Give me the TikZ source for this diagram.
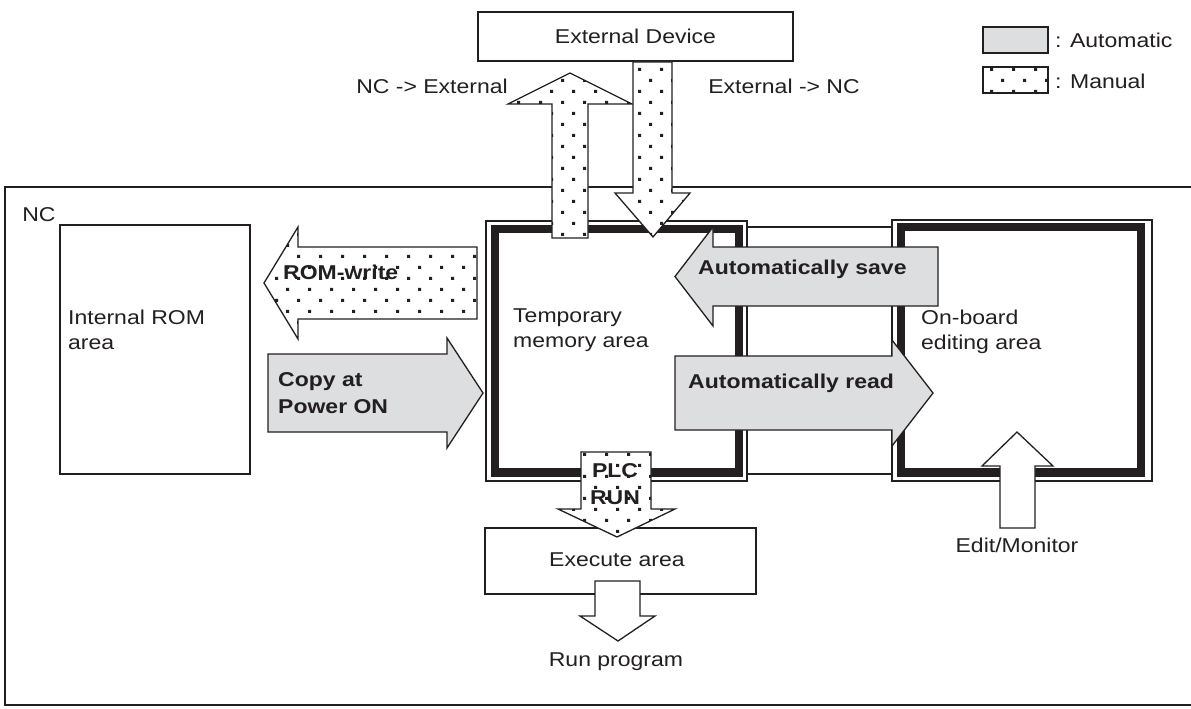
\documentclass[tikz,border=0pt]{standalone}
\usepackage{fontspec}
\setmainfont{Liberation Sans}[FakeStretch=1.15]
\usetikzlibrary{patterns}
\definecolor{autogray}{RGB}{221,222,224}
\definecolor{ink}{RGB}{35,31,32}
\pgfdeclarepatternformonly{mydots}{\pgfpoint{-1pt}{-1pt}}{\pgfpoint{23pt}{23pt}}{\pgfpoint{22pt}{22pt}}{%
  \pgfpathrectangle{\pgfpoint{0pt}{0pt}}{\pgfpoint{3pt}{3pt}}%
  \pgfpathrectangle{\pgfpoint{11pt}{11pt}}{\pgfpoint{3pt}{3pt}}%
  \pgfusepath{fill}}
\begin{document}
\begin{tikzpicture}[x=1pt,y=-1pt,
  font=\fontsize{20}{25}\selectfont,
  thinline/.style={draw=ink,line width=1.3pt},
  bandline/.style={draw=ink,line width=8.5pt,line join=miter},
  autoarrow/.style={draw=ink,line width=1.3pt,fill=autogray,line join=miter},
  manarrow/.style={draw=ink,line width=1.3pt,preaction={fill=white},pattern=mydots,pattern color=ink,line join=miter},
  whitearrow/.style={draw=ink,line width=1.3pt,fill=white,line join=miter},
  txt/.style={inner sep=0pt,text=ink},
  btxt/.style={inner sep=0pt,text=ink,font=\fontsize{20}{27}\selectfont\bfseries}]
\useasboundingbox (0,0) rectangle (1191,709);
\clip (0,0) rectangle (1191,709);
\fill[white] (0,0) rectangle (1191,709);

% external device
\draw[thinline] (478,12) rectangle (793,61);
\node[txt] (ext) at (635.5,36.5) {External Device};
\node[txt] (ncext) at (432,86) {NC -> External};
\node[txt] (extnc) at (784,86) {External -> NC};

% legend
\draw[thinline,fill=autogray] (983,27) rectangle (1048,53);
\draw[manarrow] (983,67) rectangle (1048,93);
\node[txt,anchor=west] (lauto) at (1055,40) {: Automatic};
\node[txt,anchor=west] (lman) at (1055,81) {: Manual};

% NC frame
\draw[thinline] (1200,187) -- (5,187) -- (5,705) -- (1200,705);
\node[txt] (nc) at (39,215) {NC};

% internal ROM
\draw[thinline] (60,225) rectangle (250,474);
\node[txt,anchor=west,align=left] (rom) at (68,330) {Internal ROM\\area};

% connecting band
\draw[thinline] (747,227) rectangle (892,474);

% temporary memory
\draw[thinline,fill=white] (486,221) rectangle (747,481);
\draw[bandline] (495,229) rectangle (739,472.5);
\node[txt,anchor=west,align=left] (tmp) at (513,330) {Temporary\\memory area};

% on-board editing
\draw[thinline,fill=white] (892,220) rectangle (1152,481);
\draw[bandline] (901,227) rectangle (1141,472.5);
\node[txt,anchor=west,align=left] (onb) at (921,332) {On-board\\editing area};

% execute area
\draw[thinline] (485,528) rectangle (756,594);
\node[txt] (exe) at (617,560) {Execute area};

% arrows
\draw[manarrow] (477,247) -- (298,247) -- (298,227) -- (264,283) -- (298,339) -- (298,319) -- (477,319) -- cycle;
\node[btxt,anchor=west] (romw) at (283,272) {ROM-write};

\draw[autoarrow] (268,354) -- (447,354) -- (447,338) -- (483,393) -- (447,448) -- (447,432) -- (268,432) -- cycle;
\node[btxt,anchor=west,align=left] (copy) at (278,393) {Copy at\\Power ON};

\draw[autoarrow] (938,247) -- (713,247) -- (713,227) -- (675,276.5) -- (713,326) -- (713,306) -- (938,306) -- cycle;
\node[btxt,anchor=west] (save) at (698,269) {Automatically save};

\draw[autoarrow] (675,356) -- (892,356) -- (892,340) -- (933,393) -- (892,446) -- (892,430) -- (675,430) -- cycle;
\node[btxt,anchor=west] (read) at (688,383) {Automatically read};

\draw[manarrow] (552,238) -- (552,104) -- (508,104) -- (570,73) -- (632,104) -- (588,104) -- (588,238) -- cycle;
\draw[manarrow] (633,62) -- (633,193) -- (615,193) -- (653,237) -- (690,193) -- (672,193) -- (672,62) -- cycle;

\draw[manarrow] (581,452) -- (581,509) -- (558,509) -- (617,537) -- (675,509) -- (651,509) -- (651,452) -- cycle;
\node[btxt,align=center] (plc) at (615,484) {PLC\\RUN};

\draw[whitearrow] (595,581) -- (595,616) -- (580,616) -- (618,641) -- (655,616) -- (640,616) -- (640,581) -- cycle;
\node[txt] (run) at (616,662) {Run program};

\draw[whitearrow] (1000,528) -- (1000,466) -- (982,466) -- (1017,432) -- (1053,466) -- (1035,466) -- (1035,528) -- cycle;
\node[txt] (edit) at (1017,545) {Edit/Monitor};
\end{tikzpicture}
\end{document}
